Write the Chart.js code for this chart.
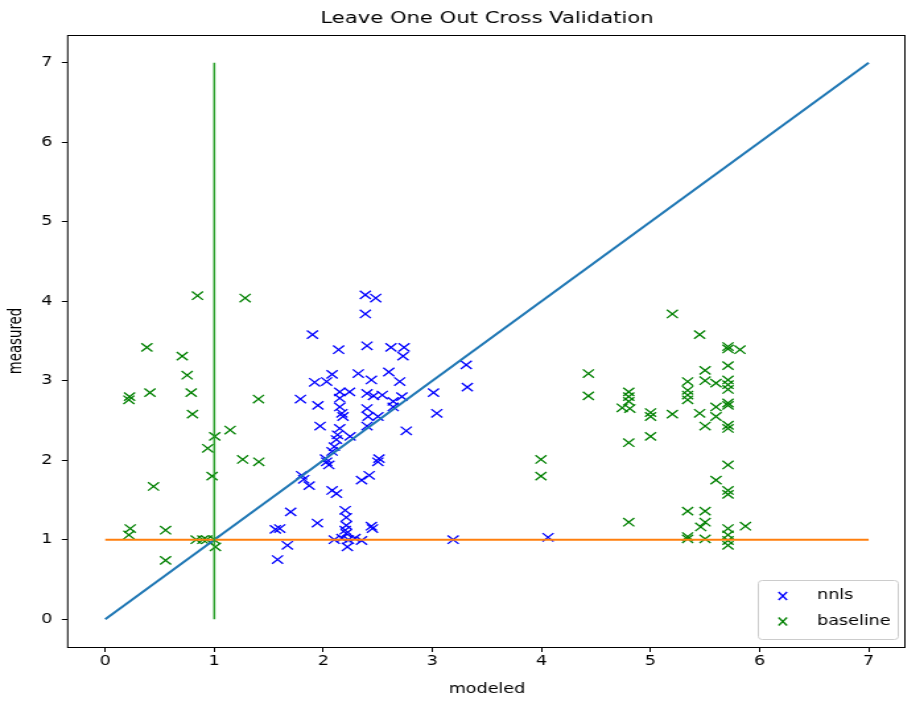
<!DOCTYPE html>
<html>
<head>
<meta charset="utf-8">
<title>Leave One Out Cross Validation</title>
<script src="https://cdn.jsdelivr.net/npm/chart.js@4.4.0/dist/chart.umd.min.js"></script>
<style>
  html, body { margin: 0; padding: 0; background: #fff; overflow: hidden; }
  /* the reference figure is stretched sideways, so the whole canvas is too */
  #stage { width: 687px; height: 702px; transform: scaleX(1.32); transform-origin: 0 0; }
  #loocv { display: block; }
</style>
</head>
<body>
<div id="stage"><canvas id="loocv" width="687" height="702"></canvas></div>
<script>
// nnls predictions (modeled vs measured)
const nnlsX = [2.385, 2.48, 2.385, 1.90, 2.14, 2.40, 2.62, 2.74, 2.73, 3.31, 3.32, 3.01, 3.04,
  1.92, 2.03, 2.08, 2.32, 2.60, 2.70, 2.44, 1.79, 1.95, 2.15, 2.24, 2.15, 2.15, 2.17, 2.18,
  2.40, 2.46, 2.54, 2.40, 2.41, 2.50, 2.40, 2.64, 2.64, 2.72, 2.76, 1.97, 2.15, 2.13, 2.12,
  2.245, 2.10, 2.08, 2.02, 2.03, 2.05, 2.51, 2.50, 1.80, 1.82, 1.87, 2.35, 2.42, 2.08, 2.12,
  1.70, 1.945, 1.56, 1.60, 1.67, 1.58, 2.20, 2.21, 2.21, 2.20, 2.21, 2.44, 2.45, 2.10, 2.17,
  2.23, 2.29, 2.35, 2.22, 3.19, 4.06];
const nnlsY = [4.08, 4.04, 3.84, 3.58, 3.39, 3.44, 3.42, 3.42, 3.31, 3.20, 2.92, 2.85, 2.59,
  2.98, 2.99, 3.08, 3.09, 3.11, 2.99, 3.01, 2.77, 2.69, 2.86, 2.86, 2.78, 2.67, 2.59, 2.55,
  2.84, 2.81, 2.82, 2.65, 2.55, 2.55, 2.43, 2.74, 2.67, 2.80, 2.37, 2.43, 2.40, 2.32, 2.26,
  2.30, 2.17, 2.11, 2.02, 1.98, 1.94, 2.02, 1.98, 1.81, 1.76, 1.68, 1.75, 1.81, 1.62, 1.58,
  1.35, 1.21, 1.13, 1.14, 0.93, 0.75, 1.37, 1.28, 1.18, 1.12, 1.08, 1.17, 1.14, 1.00, 1.02,
  1.00, 1.02, 0.99, 0.91, 1.00, 1.03];

// baseline predictions
const baseX = [0.846, 1.283, 0.382, 0.706, 0.751, 0.223, 0.217, 0.41, 0.788, 1.405, 0.80, 1.004,
  1.145, 0.94, 1.26, 1.408, 0.98, 0.443, 0.229, 0.217, 0.553, 0.553, 0.834, 0.895, 0.93, 1.00,
  1.01, 3.995, 3.995, 4.43, 4.43, 4.80, 4.80, 4.80, 4.74, 4.81, 4.80, 4.80, 5.00, 5.00, 5.00,
  5.20, 5.20, 5.45, 5.34, 5.34, 5.34, 5.34, 5.34, 5.34, 5.34, 5.50, 5.50, 5.60, 5.45, 5.50,
  5.60, 5.60, 5.50, 5.50, 5.46, 5.50, 5.60, 5.71, 5.71, 5.82, 5.71, 5.71, 5.71, 5.71, 5.71,
  5.71, 5.71, 5.71, 5.71, 5.71, 5.71, 5.71, 5.71, 5.71, 5.71, 5.87];
const baseY = [4.07, 4.04, 3.42, 3.31, 3.07, 2.80, 2.76, 2.85, 2.85, 2.77, 2.58, 2.30,
  2.38, 2.15, 2.01, 1.98, 1.80, 1.67, 1.14, 1.06, 1.12, 0.74, 1.00, 1.00, 1.00, 1.00,
  0.91, 2.01, 1.80, 3.09, 2.81, 2.86, 2.80, 2.74, 2.66, 2.65, 2.22, 1.22, 2.60, 2.55, 2.30,
  3.84, 2.58, 3.58, 2.99, 2.88, 2.82, 2.76, 1.36, 1.04, 1.01, 3.13, 3.00, 2.97, 2.59, 2.43,
  2.67, 2.55, 1.36, 1.22, 1.16, 1.01, 1.75, 3.43, 3.40, 3.39, 3.19, 3.01, 2.95, 2.89, 2.72,
  2.69, 2.44, 2.40, 1.94, 1.62, 1.57, 1.14, 1.06, 0.99, 0.93, 1.17];

// reference lines
const diagX = [0, 7], diagY = [0, 7];
const unitX = [0, 7], unitY = [1, 1];
const vertX = [1, 1], vertY = [0, 7];

const axisTicks = [0, 1, 2, 3, 4, 5, 6, 7];

const toPts = (xs, ys) => xs.map((x, i) => ({ x: x, y: ys[i] }));
const FONT = 'DejaVu Sans';

// black frame around the plot area, like matplotlib spines
const framePlugin = {
    id: 'frame',
    afterDraw(chart) {
        const { ctx, chartArea: a } = chart;
        ctx.save();
        ctx.strokeStyle = '#000';
        ctx.lineWidth = 1;
        ctx.strokeRect(a.left + 0.5, a.top + 0.5, a.right - a.left - 2, a.bottom - a.top);
        ctx.restore();
    }
};

// legend box in the lower right corner, only for the two scatter series
const boxLegend = {
    id: 'boxLegend',
    afterDraw(chart) {
        const ctx = chart.ctx;
        const a = chart.chartArea;
        const w = 106, h = 59;
        const x0 = a.right - 7 - w, y0 = a.bottom - 8 - h;
        ctx.save();
        ctx.beginPath();
        ctx.roundRect(x0 + 0.5, y0 + 0.5, w, h, 3);
        ctx.fillStyle = 'rgba(255,255,255,0.8)';
        ctx.fill();
        ctx.strokeStyle = '#cccccc';
        ctx.lineWidth = 1;
        ctx.stroke();
        const items = chart.data.datasets.filter(d => d.inLegend);
        items.forEach((d, i) => {
            const cy = y0 + 16 + i * 25.5;
            const cx = x0 + 19;
            ctx.strokeStyle = d.borderColor;
            ctx.lineWidth = 1.3;
            ctx.beginPath();
            ctx.moveTo(cx - 3.2, cy - 4); ctx.lineTo(cx + 3.2, cy + 4);
            ctx.moveTo(cx - 3.2, cy + 4); ctx.lineTo(cx + 3.2, cy - 4);
            ctx.stroke();
            ctx.fillStyle = '#000';
            ctx.font = '13.3px "' + FONT + '"';
            ctx.textBaseline = 'middle';
            ctx.fillText(d.label, x0 + 45, cy);
        });
        ctx.restore();
    }
};

const ctx = document.getElementById('loocv').getContext('2d');
const chart = new Chart(ctx, {
    type: 'scatter',
    data: {
        datasets: [
            {
                label: 'nnls',
                inLegend: true,
                data: toPts(nnlsX, nnlsY),
                pointStyle: 'crossRot',
                pointRadius: 5.9,
                pointHoverRadius: 5.9,
                borderColor: '#0000ff',
                backgroundColor: '#0000ff',
                pointBorderWidth: 1.3,
                order: 5
            },
            {
                label: 'baseline',
                inLegend: true,
                data: toPts(baseX, baseY),
                pointStyle: 'crossRot',
                pointRadius: 5.9,
                pointHoverRadius: 5.9,
                borderColor: '#008000',
                backgroundColor: '#008000',
                pointBorderWidth: 1.3,
                order: 4
            },
            {
                label: 'diag',
                data: toPts(diagX, diagY),
                showLine: true,
                pointRadius: 0,
                borderColor: '#1f77b4',
                borderWidth: 2,
                order: 3
            },
            {
                label: 'ones',
                data: toPts(unitX, unitY),
                showLine: true,
                pointRadius: 0,
                borderColor: '#ff7f0e',
                borderWidth: 2,
                order: 2
            },
            {
                label: 'vert',
                data: toPts(vertX, vertY),
                showLine: true,
                pointRadius: 0,
                borderColor: '#2ca02c',
                borderWidth: 1.6,
                order: 1
            }
        ]
    },
    options: {
        responsive: false,
        animation: false,
        layout: { autoPadding: false, padding: 0 },
        plugins: {
            legend: { display: false },
            tooltip: { enabled: false },
            title: {
                display: true,
                fullSize: false,   // center over the plot area, not the canvas
                text: 'Leave One Out Cross Validation',
                color: '#000',
                font: { family: FONT, size: 16, weight: 'normal' },
                padding: { top: 9.2, bottom: 6.6 }
            }
        },
        scales: {
            x: {
                type: 'linear',
                min: -0.35,
                max: 7.35,
                afterBuildTicks: s => { s.ticks = axisTicks.map(v => ({ value: v })); },
                afterFit: s => { s.height = 55; s.paddingLeft = 0; s.paddingRight = 0; },
                border: { display: false },
                grid: { display: true, drawOnChartArea: false, drawTicks: true, tickLength: 5, color: '#000' },
                ticks: { color: '#000', padding: 2, maxRotation: 0, font: { family: FONT, size: 13.3 } },
                title: {
                    display: true,
                    text: 'modeled',
                    color: '#000',
                    padding: { top: 0, bottom: 4 },
                    font: { family: FONT, size: 13.3 }
                }
            },
            y: {
                type: 'linear',
                min: -0.35,
                max: 7.35,
                afterBuildTicks: s => { s.ticks = axisTicks.map(v => ({ value: v })); },
                afterFit: s => { s.width = 50.8; s.paddingTop = 0; s.paddingBottom = 0; },
                border: { display: false },
                grid: { display: true, drawOnChartArea: false, drawTicks: true, tickLength: 4, color: '#000' },
                ticks: { color: '#000', padding: 7, font: { family: FONT, size: 13.3 } },
                title: {
                    display: true,
                    text: 'measured',
                    color: '#000',
                    padding: { top: 5, bottom: 0 },
                    font: { family: FONT, size: 13.3 }
                }
            }
        }
    },
    plugins: [framePlugin, boxLegend]
});
</script>
</body>
</html>
